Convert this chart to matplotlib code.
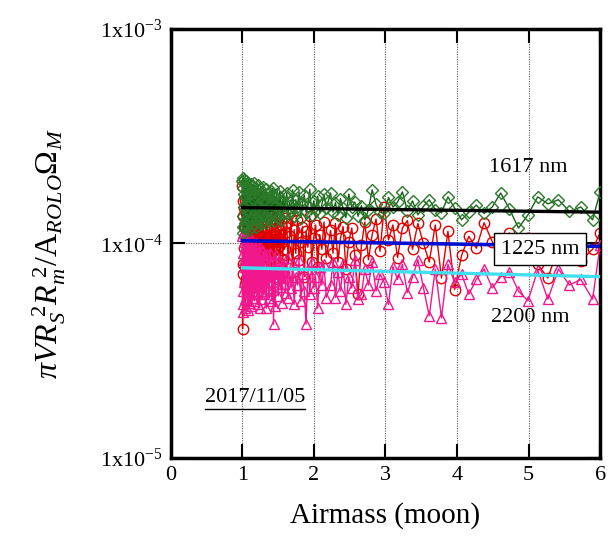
import matplotlib
matplotlib.use('Agg')
import matplotlib.pyplot as plt
from matplotlib.lines import Line2D
import numpy as np

plt.rcParams['font.family'] = ['Liberation Serif', 'DejaVu Serif']
plt.rcParams['mathtext.fontset'] = 'custom'
plt.rcParams['mathtext.rm'] = 'Liberation Serif'
plt.rcParams['mathtext.it'] = 'Liberation Serif:italic'
plt.rcParams['mathtext.bf'] = 'Liberation Serif:bold'

SCALE = 1e-5  # values below are in units of 1e-5

airmass = [
    1.000, 1.003, 1.006, 1.009, 1.012, 1.015, 1.019, 1.023, 1.027, 1.031,
    1.035, 1.039, 1.043, 1.047, 1.052, 1.057, 1.062, 1.067, 1.072, 1.077,
    1.082, 1.087, 1.093, 1.099, 1.105, 1.111, 1.117, 1.123, 1.129, 1.135,
    1.141, 1.147, 1.154, 1.161, 1.168, 1.175, 1.182, 1.189, 1.196, 1.203,
    1.210, 1.217, 1.225, 1.233, 1.241, 1.249, 1.257, 1.265, 1.273, 1.281,
    1.290, 1.299, 1.308, 1.317, 1.326, 1.335, 1.344, 1.353, 1.363, 1.373,
    1.383, 1.393, 1.403, 1.413, 1.424, 1.435, 1.446, 1.457, 1.468, 1.479,
    1.491, 1.503, 1.515, 1.527, 1.539, 1.551, 1.564, 1.577, 1.590, 1.603,
    1.620, 1.640, 1.660, 1.681, 1.702, 1.724, 1.746, 1.769, 1.792, 1.816,
    1.840, 1.865, 1.890, 1.916, 1.942, 1.969, 1.996, 2.024, 2.052, 2.081,
    2.111, 2.141, 2.172,
    2.233, 2.266, 2.300, 2.335, 2.371, 2.408, 2.447, 2.487, 2.529, 2.572,
    2.617, 2.664, 2.712, 2.762, 2.814, 2.868, 2.924, 2.982, 3.042, 3.104,
    3.169, 3.236, 3.306, 3.378, 3.453, 3.531, 3.612, 3.696, 3.783, 3.873,
    3.967, 4.064, 4.165, 4.270, 4.379, 4.492, 4.610, 4.732, 4.859, 4.991,
    5.128, 5.270, 5.418, 5.571, 5.730, 5.895, 6.000,
]

ratio_1617 = [
    19.5, 12.0, 18.2, 13.5, 20.3, 11.2, 17.0, 14.8, 19.8, 12.5,
    16.5, 18.9, 11.8, 15.2, 19.6, 13.0, 17.8, 12.2, 18.5, 14.0,
    19.2, 11.5, 16.8, 18.0, 12.8, 15.5, 19.0, 13.2, 17.2, 11.9,
    18.6, 14.5, 16.2, 12.4, 19.1, 13.8, 17.5, 12.0, 18.2, 15.0,
    13.0, 18.8, 12.6, 16.6, 14.2, 18.0, 12.3, 17.4, 13.6, 15.8,
    18.4, 12.8, 16.0, 13.4, 17.9, 12.5, 15.6, 17.2, 13.1, 16.4,
    12.9, 17.6, 14.0, 15.2, 18.1, 12.7, 16.8, 13.5, 15.0, 17.0,
    13.2, 16.2, 14.5, 17.5, 12.8, 15.8, 13.9, 16.9, 14.2, 15.5,
    17.2, 13.8, 15.6, 14.2, 17.8, 13.5, 16.0, 14.8, 17.4, 13.2,
    15.4, 16.8, 14.0, 15.0, 17.9, 13.6, 15.8, 14.4, 16.6, 13.9,
    15.2, 17.0, 14.6,
    17.2, 14.0, 15.5, 13.6, 16.2, 14.6, 13.2, 17.0, 14.8, 15.6,
    13.4, 15.0, 12.9, 14.4, 17.8, 15.2, 14.0, 13.8, 16.4, 14.8,
    15.6, 17.4, 14.2, 15.8, 13.6, 14.9, 16.0, 14.4, 13.9, 16.5,
    14.6, 12.9, 14.0, 15.1, 13.8, 14.8, 17.2, 14.5, 11.8, 13.6,
    16.5, 15.3, 16.0, 14.1, 14.8, 12.9, 17.4,
]

ratio_1225 = [
    18.5, 4.0, 13.5, 8.0, 15.8, 7.2, 12.0, 9.5, 14.6, 6.5,
    11.8, 16.0, 7.8, 10.5, 13.9, 6.8, 12.6, 9.0, 15.2, 7.5,
    11.0, 14.2, 8.4, 12.8, 6.2, 13.5, 9.8, 11.6, 7.0, 14.8,
    8.8, 12.4, 10.2, 6.6, 13.8, 9.2, 11.4, 7.6, 14.0, 8.2,
    12.2, 10.0, 6.9, 13.2, 9.4, 11.8, 7.9, 12.9, 10.6, 8.5,
    13.6, 7.4, 11.2, 9.6, 12.6, 8.0, 14.2, 9.0, 11.5, 7.2,
    12.8, 10.4, 8.6, 13.0, 9.2, 11.0, 7.6, 12.4, 10.8, 8.8,
    13.4, 9.6, 11.6, 7.8, 12.2, 10.2, 8.4, 13.1, 9.4, 11.3,
    12.5, 8.0, 10.8, 13.2, 7.4, 11.6, 9.0, 12.9, 8.4, 10.2,
    12.0, 7.0, 11.4, 9.6, 13.4, 8.2, 10.6, 12.2, 7.8, 11.0,
    9.4, 12.6, 8.6,
    11.5, 9.0, 12.4, 8.2, 10.6, 12.0, 7.6, 10.2, 11.8, 8.8,
    5.8, 9.8, 12.6, 8.4, 11.0, 13.0, 9.2, 14.8, 10.4, 12.2,
    8.6, 11.8, 12.8, 9.4, 12.4, 10.0, 8.2, 12.2, 6.9, 11.4,
    6.1, 8.8, 10.8, 9.5, 12.5, 10.2, 8.6, 11.2, 9.0, 10.6,
    8.0, 6.9, 9.6, 10.4, 8.3, 9.4, 11.2,
]

ratio_2200 = [
    10.8, 5.2, 9.0, 6.0, 11.2, 4.8, 8.4, 6.6, 10.2, 5.5,
    7.8, 9.6, 5.0, 8.8, 6.4, 10.6, 5.8, 9.2, 4.9, 8.0,
    10.0, 6.2, 8.6, 5.3, 9.8, 6.8, 7.6, 5.1, 10.4, 6.0,
    8.2, 5.6, 9.4, 7.0, 5.4, 8.8, 6.3, 10.1, 5.9, 7.8,
    9.0, 5.2, 8.4, 6.6, 5.0, 9.6, 6.0, 8.0, 5.5, 7.4,
    9.2, 5.8, 8.6, 6.4, 7.2, 5.0, 8.9, 6.2, 7.8, 5.6,
    9.0, 6.6, 7.4, 5.4, 8.2, 4.2, 7.6, 5.1, 8.8, 6.8,
    7.0, 5.7, 8.4, 6.3, 7.8, 5.3, 8.0, 6.5, 7.3, 5.9,
    8.6, 5.6, 7.4, 6.2, 8.0, 5.2, 7.0, 6.4, 8.4, 5.4,
    7.2, 6.0, 4.2, 7.6, 5.8, 8.2, 6.2, 7.0, 5.0, 7.8,
    6.4, 8.0, 5.6,
    6.4, 8.2, 5.6, 7.4, 6.0, 8.0, 5.2, 7.0, 6.2, 8.4,
    5.5, 5.8, 7.6, 6.4, 8.2, 6.0, 7.2, 6.6, 5.2, 7.8,
    6.8, 8.0, 5.9, 7.0, 8.4, 6.2, 4.6, 7.6, 4.5, 8.0,
    6.6, 7.2, 5.8, 6.8, 7.6, 6.2, 7.0, 7.4, 6.0, 5.4,
    7.5, 5.5, 7.6, 6.4, 6.8, 5.5, 9.8,
]

fit_airmass = [1.0, 6.0]
fit_1617 = [14.7, 14.0]
fit_1225 = [10.3, 9.7]
fit_2200 = [7.7, 7.0]

labels = ['1617 nm', '1225 nm', '2200 nm']
date_label = '2017/11/05'

x = np.array(airmass)
s = SCALE

fig = plt.figure(figsize=(6.08, 5.42), dpi=100)
ax = fig.add_axes([0.281, 0.155, 0.706, 0.7915])

ax.set_yscale('log')
ax.set_xlim(0, 6)
ax.set_ylim(1e-5, 1e-3)

# grid
for gx in [1, 2, 3, 4, 5]:
    ax.axvline(gx, color='0.35', lw=0.8, ls=(0, (1, 1.2)), zorder=0)
ax.axhline(1e-4, color='0.35', lw=0.8, ls=(0, (1, 1.2)), zorder=0)

ax.plot(x, np.array(ratio_1225) * s, color='#e00000', lw=1.0, marker='o',
        ms=7.5, mfc='none', mec='#e00000', mew=1.0, zorder=2)
ax.plot(x, np.array(ratio_2200) * s, color='#f0188c', lw=1.0, marker='^',
        ms=7, mfc='none', mec='#f0188c', mew=1.0, zorder=3)
ax.plot(x, np.array(ratio_1617) * s, color='#176017', lw=1.0, marker='D',
        ms=6, mfc='none', mec='#2a7a2a', mew=1.0, zorder=4)

ax.plot(fit_airmass, np.array(fit_1617) * s, color='black', lw=2.4, zorder=5)
ax.plot(fit_airmass, np.array(fit_1225) * s, color='#0010d0', lw=2.6, zorder=5)
ax.plot(fit_airmass, np.array(fit_2200) * s, color='#40e0f0', lw=2.4, zorder=5)

ax.text(5.0, 2.25e-4, labels[0], fontsize=16, ha='center', va='center', zorder=6)
ax.text(5.16, 9.4e-5, labels[1], fontsize=16, ha='center', va='center', zorder=6,
        bbox=dict(boxstyle='square,pad=0.3', fc='white', ec='black', lw=1.0))
ax.text(5.03, 4.5e-5, labels[2], fontsize=16, ha='center', va='center', zorder=6)

dt = ax.text(1.18, 1.92e-5, date_label, fontsize=16, ha='center', va='center', zorder=6)

ax.set_xticks([0, 1, 2, 3, 4, 5, 6])
ax.set_xticklabels(['0', '1', '2', '3', '4', '5', '6'])
ax.set_yticks([1e-5, 1e-4, 1e-3])
ax.set_yticklabels([r'1x10$^{-5}$', r'1x10$^{-4}$', r'1x10$^{-3}$'])
ax.yaxis.set_minor_locator(matplotlib.ticker.NullLocator())
ax.tick_params(axis='both', which='major', direction='in', length=10, width=1.5,
               labelsize=16, top=True, right=True, pad=6)
for sp in ax.spines.values():
    sp.set_linewidth(2.5)

ax.set_xlabel('Airmass (moon)', fontsize=21, labelpad=12)
ax.set_ylabel(r'$\pi VR_S^{\ 2}R_m^{\ 2}/\mathrm{A}_{ROLO}\Omega_M$', fontsize=23)
ax.yaxis.set_label_coords(-0.24, 0.476)

# underline for date
fig.canvas.draw()
bb = dt.get_window_extent()
inv = ax.transAxes.inverted()
(x0, y0), (x1, y1) = inv.transform([[bb.x0, bb.y0], [bb.x1, bb.y1]])
ax.add_line(Line2D([x0, x1], [y0 - 0.005, y0 - 0.005], transform=ax.transAxes,
                   color='black', lw=1.0, zorder=6))

fig.savefig('out.png', dpi=100)
